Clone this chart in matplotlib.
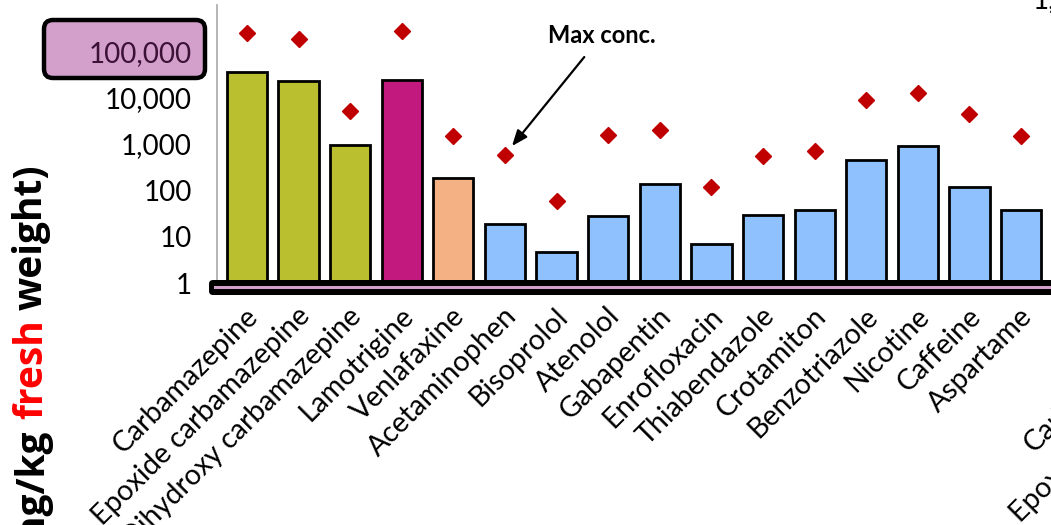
import matplotlib
matplotlib.use("Agg")
import matplotlib.pyplot as plt
from matplotlib.patches import FancyBboxPatch, Rectangle
from matplotlib.transforms import IdentityTransform, Affine2D
import numpy as np

plt.rcParams['font.family'] = ['Lato', 'DejaVu Sans']

compounds = ['Carbamazepine', 'Epoxide carbamazepine', 'Dihydroxy carbamazepine',
             'Lamotrigine', 'Venlafaxine', 'Acetaminophen', 'Bisoprolol', 'Atenolol',
             'Gabapentin', 'Enrofloxacin', 'Thiabendazole', 'Crotamiton',
             'Benzotriazole', 'Nicotine', 'Caffeine', 'Aspartame']
mean_conc = [35900, 22600, 950, 23800, 188, 19, 4.7, 28, 135, 6.9, 29, 38,
             445, 900, 117, 38]
max_conc = [241000, 182000, 5100, 270000, 1480, 587, 59, 1560, 2000, 118, 558,
            716, 8700, 12300, 4480, 1460]
bar_colors = ['#b9bf2e'] * 3 + ['#c2197f', '#f4b183'] + ['#8fc1ff'] * 11
ytick_values = [1, 10, 100, 1000, 10000, 100000]
ytick_labels = ['1', '10', '100', '1,000', '10,000', '100,000']

W, H = 1051, 525
fig = plt.figure(figsize=(W / 100, H / 100), dpi=100)
ax = fig.add_axes([217 / W, (H - 283.3) / H, (W - 217) / W, 278.7 / H])
ax.patch.set_alpha(0)

x = np.arange(len(compounds))
ax.bar(x, mean_conc, width=0.78, color=bar_colors, edgecolor='black',
       linewidth=2, zorder=2)
ax.plot(x, max_conc, linestyle='none', marker='D', markersize=8,
        color='#c00000', zorder=3)

ax.set_yscale('log')
ax.set_ylim(1, 1e6)
ax.set_xlim(-0.58, 15.58)
ax.set_yticks(ytick_values)
ax.set_yticklabels(ytick_labels, fontsize=20)
ax.yaxis.set_minor_locator(matplotlib.ticker.NullLocator())
ax.tick_params(axis='y', length=0, pad=18)
ax.get_yticklabels()[-1].set_color('#3b1236')

ax.set_xticks(x)
ax.set_xticklabels(compounds, rotation=45, ha='right', rotation_mode='anchor',
                   fontsize=20.5)
ax.tick_params(axis='x', length=0, pad=14)
for lbl in ax.get_xticklabels():
    lbl.set_transform(lbl.get_transform() + Affine2D().translate(-2, 0))

for side in ['top', 'right', 'bottom']:
    ax.spines[side].set_visible(False)
ax.spines['left'].set_color('#b0b0b0')
ax.spines['left'].set_linewidth(1.3)

# highlighted x-axis band
px = IdentityTransform()
fig.patches.append(FancyBboxPatch((209, 230), 870, 15,
                                  boxstyle='round,pad=0,rounding_size=4',
                                  facecolor='black', edgecolor='none',
                                  transform=px, zorder=5))
fig.patches.append(Rectangle((214, 236), 860, 3, facecolor='#d39fcb',
                             edgecolor='none', transform=px, zorder=6))

# highlighted top tick label
fig.patches.append(FancyBboxPatch((44, 447), 161, 58,
                                  boxstyle='round,pad=0,rounding_size=9',
                                  facecolor='#d39fcb', edgecolor='black',
                                  linewidth=3.2, transform=px, zorder=-1))

# annotation for the maximum concentrations
ax.annotate('Max conc.', xy=(5, max_conc[5]), xycoords='data',
            xytext=(97, 112), textcoords='offset pixels',
            ha='center', va='baseline', fontsize=17, fontweight='bold',
            arrowprops=dict(arrowstyle='-|>,head_length=0.63,head_width=0.25',
                            mutation_scale=15, color='black', lw=1.6,
                            shrinkA=7, shrinkB=8), zorder=4)

# y-axis title assembled from pieces so one word can be coloured
renderer = fig.canvas.get_renderer()
y_top = 360
for piece, col in [('weight)', 'black'), ('fresh', '#ff0000'), ('ng/kg', 'black')]:
    t = fig.text(42, y_top, piece, rotation=90, rotation_mode='anchor',
                 ha='right', va='baseline', fontsize=28, fontweight='bold',
                 family=['Open Sans', 'DejaVu Sans'], color=col, transform=px)
    bb = t.get_window_extent(renderer)
    y_top = bb.y0 - 9

# neighbouring panel labels at the figure edge
fig.text(1033, 517, '1,000,000', ha='left', va='baseline', fontsize=20,
         transform=px)
fig.text(1034, 72, 'Carbamazepine', rotation=45, rotation_mode='anchor',
         ha='left', va='baseline', fontsize=20.5, transform=px)
fig.text(1020, 2, 'Epoxide carbamazepine', rotation=45, rotation_mode='anchor',
         ha='left', va='baseline', fontsize=20.5, transform=px)

fig.savefig('out.png', dpi=100)
